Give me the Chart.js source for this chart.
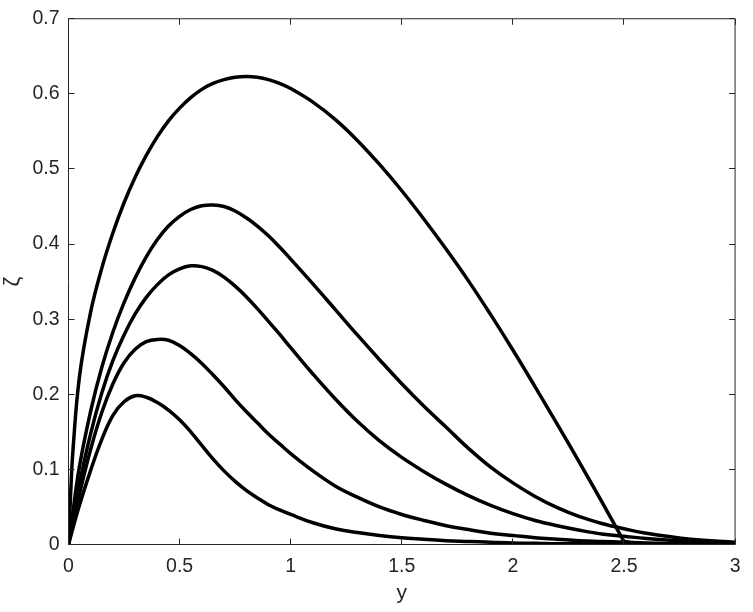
<!DOCTYPE html>
<html>
<head>
<meta charset="utf-8">
<script src="https://cdn.jsdelivr.net/npm/chart.js@4.4.1/dist/chart.umd.min.js"></script>
<style>
  html, body { margin: 0; padding: 0; background: #fff; }
  #wrap { width: 753px; height: 612px; }
</style>
</head>
<body>
<div id="wrap"><canvas id="chart" width="753" height="612"></canvas></div>
<script>
// positions along the horizontal axis (y), shared by all curves
const yGrid = [0, 0.01, 0.02, 0.05, 0.1, 0.15, 0.2, 0.25, 0.3, 0.35, 0.4, 0.45, 0.5, 0.55, 0.6, 0.65, 0.7, 0.75, 0.8, 0.85, 0.9, 0.95, 1.0,
    1.1, 1.2, 1.3, 1.4, 1.5, 1.6, 1.7, 1.8, 1.9, 2.0, 2.1, 2.2, 2.3, 2.4, 2.5, 2.6, 2.8, 3.0];

// zeta values, largest curve first
const zeta1 = [0, 0.07, 0.125, 0.225, 0.31, 0.368, 0.415, 0.455, 0.489, 0.518, 0.543, 0.564, 0.581, 0.595, 0.606, 0.614, 0.619, 0.622, 0.623, 0.622, 0.619, 0.614, 0.607,
    0.589, 0.566, 0.538, 0.506, 0.471, 0.433, 0.393, 0.351, 0.306, 0.259, 0.21, 0.16, 0.109, 0.057, 0.004, 0, 0, 0];
const zeta2 = [0, 0.022, 0.044, 0.105, 0.178, 0.236, 0.283, 0.322, 0.355, 0.383, 0.406, 0.424, 0.437, 0.446, 0.451, 0.452, 0.45, 0.444, 0.435, 0.424, 0.411, 0.396, 0.38,
    0.347, 0.313, 0.279, 0.246, 0.214, 0.184, 0.156, 0.128, 0.103, 0.082, 0.064, 0.049, 0.037, 0.028, 0.021, 0.015, 0.007, 0.003];
const zeta3 = [0, 0.017, 0.034, 0.082, 0.148, 0.202, 0.245, 0.279, 0.307, 0.329, 0.346, 0.359, 0.367, 0.371, 0.37, 0.365, 0.356, 0.344, 0.33, 0.314, 0.297, 0.28, 0.262,
    0.227, 0.194, 0.164, 0.138, 0.116, 0.097, 0.08, 0.065, 0.052, 0.041, 0.032, 0.025, 0.019, 0.014, 0.011, 0.008, 0.004, 0.002];
const zeta4 = [0, 0.014, 0.028, 0.068, 0.127, 0.176, 0.214, 0.242, 0.26, 0.27, 0.273, 0.272, 0.265, 0.254, 0.241, 0.226, 0.21, 0.193, 0.177, 0.162, 0.147, 0.134, 0.121,
    0.098, 0.078, 0.063, 0.05, 0.04, 0.032, 0.025, 0.02, 0.015, 0.012, 0.009, 0.007, 0.005, 0.004, 0.003, 0.002, 0.001, 0.0005];
const zeta5 = [0, 0.011, 0.022, 0.053, 0.099, 0.14, 0.172, 0.19, 0.198, 0.196, 0.189, 0.179, 0.166, 0.15, 0.132, 0.114, 0.098, 0.084, 0.072, 0.062, 0.053, 0.046, 0.04,
    0.029, 0.021, 0.016, 0.012, 0.009, 0.007, 0.005, 0.004, 0.003, 0.002, 0.0015, 0.001, 0.001, 0.0005, 0.0005, 0, 0, 0];

// the largest curve reaches zero here and stays on the axis afterwards
const zeta1End = 2.5;

const xTicks = [0, 0.5, 1, 1.5, 2, 2.5, 3];
const yTicks = [0, 0.1, 0.2, 0.3, 0.4, 0.5, 0.6, 0.7];

const axisColor = '#262626';
const fontFamily = "'Liberation Sans', Arial, sans-serif";
const tickFont = { family: fontFamily, size: 19.5, lineHeight: 1 };

function toPoints(vals, from = 0, to = Infinity) {
    return yGrid.map((x, i) => ({ x: x, y: vals[i] })).filter(p => p.x >= from && p.x <= to);
}

function curve(points, tension = 0.4) {
    return {
        data: points,
        borderColor: '#000',
        borderWidth: 3.5,
        pointRadius: 0,
        fill: false,
        tension: tension,
        borderJoinStyle: 'round',
        borderCapStyle: 'round'
    };
}

function fmt(v) {
    return String(Math.round(v * 10) / 10);
}

// matlab style box with inward ticks on all four sides
const boxTicks = {
    id: 'boxTicks',
    afterDraw(chart) {
        const { ctx, chartArea: a, scales: { x, y } } = chart;
        const len = 6;
        ctx.save();
        ctx.strokeStyle = axisColor;
        ctx.lineWidth = 1;
        ctx.beginPath();
        ctx.rect(a.left, a.top, a.right - a.left, a.bottom - a.top);
        xTicks.forEach(v => {
            const px = Math.round(x.getPixelForValue(v) - 0.5) + 0.5;
            ctx.moveTo(px, a.bottom); ctx.lineTo(px, a.bottom - len);
            ctx.moveTo(px, a.top); ctx.lineTo(px, a.top + len);
        });
        yTicks.forEach(v => {
            const py = Math.round(y.getPixelForValue(v) - 0.5) + 0.5;
            ctx.moveTo(a.left, py); ctx.lineTo(a.left + len, py);
            ctx.moveTo(a.right, py); ctx.lineTo(a.right - len, py);
        });
        ctx.stroke();
        ctx.restore();
    }
};

new Chart(document.getElementById('chart'), {
    type: 'line',
    data: {
        datasets: [
            curve(toPoints(zeta1, 0, zeta1End)),
            curve(toPoints(zeta1, zeta1End), 0),
            curve(toPoints(zeta2)),
            curve(toPoints(zeta3)),
            curve(toPoints(zeta4)),
            curve(toPoints(zeta5))
        ]
    },
    options: {
        responsive: false,
        animation: false,
        layout: { padding: { top: 10.5, right: 7.5, left: 0, bottom: 0 } },
        plugins: { legend: { display: false }, tooltip: { enabled: false } },
        scales: {
            x: {
                type: 'linear',
                min: 0,
                max: 3,
                afterBuildTicks: s => { s.ticks = xTicks.map(v => ({ value: v })); },
                afterFit: s => { s.height = 67.5; },
                grid: { display: false, drawTicks: false },
                border: { display: false },
                ticks: { color: axisColor, font: tickFont, padding: 12.5, maxRotation: 0, callback: v => fmt(v) },
                title: {
                    display: true,
                    text: 'y',
                    color: axisColor,
                    font: { family: fontFamily, size: 21 },
                    padding: { top: 0, bottom: 5.7 }
                }
            },
            y: {
                type: 'linear',
                min: 0,
                max: 0.7,
                afterBuildTicks: s => { s.ticks = yTicks.map(v => ({ value: v })); },
                afterFit: s => { s.width = 68.5; },
                grid: { display: false, drawTicks: false },
                border: { display: false },
                ticks: { color: axisColor, font: tickFont, padding: 9, callback: v => fmt(v) },
                title: {
                    display: true,
                    text: 'ζ',
                    color: axisColor,
                    font: { family: fontFamily, size: 22 },
                    padding: { top: 0, bottom: 0 }
                }
            }
        }
    },
    plugins: [boxTicks]
});
</script>
</body>
</html>
